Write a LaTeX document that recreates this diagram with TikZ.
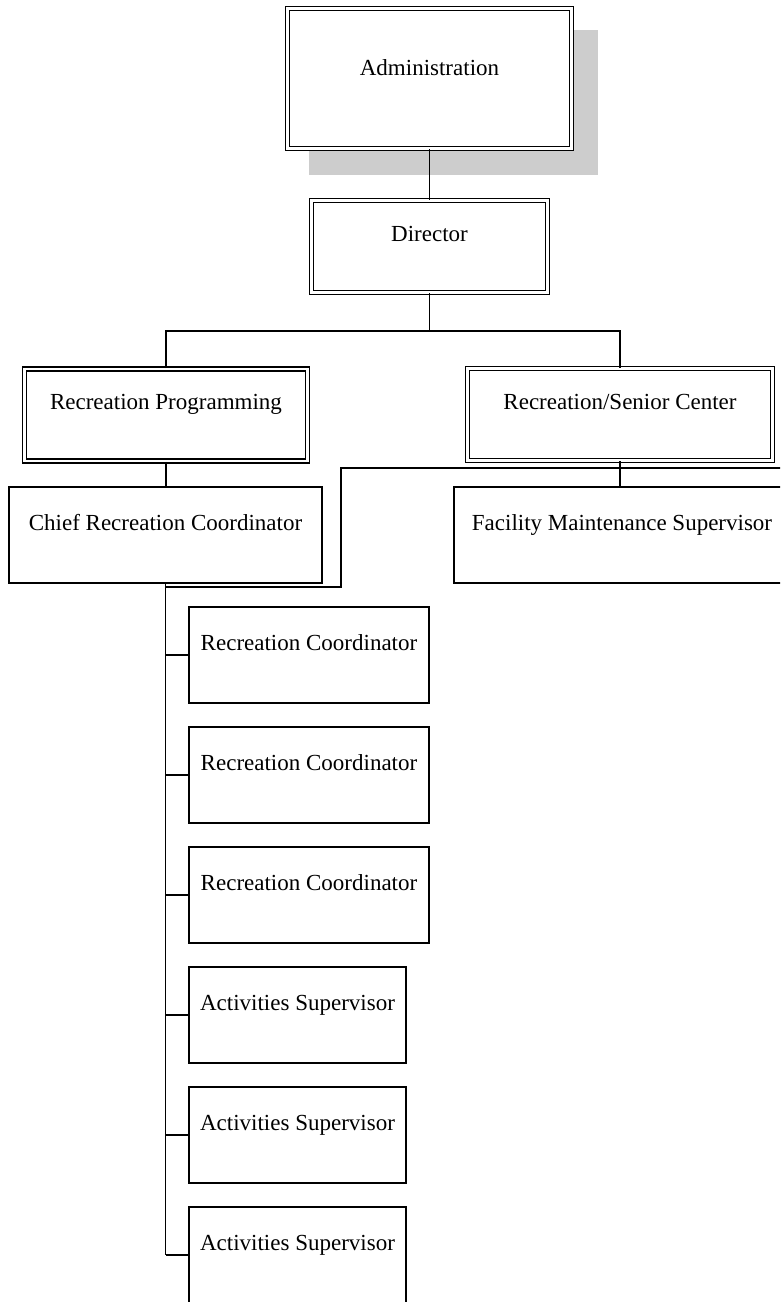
\documentclass[tikz,border=0pt]{standalone}
\usepackage{fontspec}
\setmainfont{Liberation Serif}
\usepackage{xcolor}
\usepackage{tikz}
\usetikzlibrary{positioning,calc}
\definecolor{shadowgray}{HTML}{CDCDCD}

\begin{document}
\begin{tikzpicture}[x=1pt,y=-1pt,
  post/.style={draw,fill=white,line width=1.6pt,inner sep=0pt,minimum height=96pt,
    text height=16pt,text depth=26pt,font=\fontsize{23}{27}\selectfont},
  headpost/.style={post,double,double distance=2.6pt,minimum height=92pt,text depth=27pt},
  link/.style={line width=1.6pt}]
  \useasboundingbox (0,0) rectangle (780,1302);
  \clip (0,0) rectangle (780,1302);
  \fill[shadowgray] (309,30) rectangle (598,175);
  \node[headpost,minimum width=284pt,minimum height=140pt,text depth=23pt] (admin) at (429.5,78.5) {Administration};
  \node[headpost,minimum width=236pt] (director) at (429.5,246.5) {Director};
  \node[headpost,minimum width=283pt] (recprog) at (166,415) {Recreation Programming};
  \node[headpost,minimum width=305pt] (senior) at (620,414.5) {Recreation/Senior Center};
  \node[post,minimum width=313pt] (chief) at (165.5,535) {Chief Recreation Coordinator};
  \node[post,minimum width=336pt] (facility) at (622,535) {Facility Maintenance Supervisor};
  \foreach \i in {0,1,2}{\node[post,minimum width=240pt] (coord\i) at (309,655+120*\i) {Recreation Coordinator};}
  \foreach \i in {0,1,2}{\node[post,minimum width=217pt] (activ\i) at (297.5,1015+120*\i) {Activities Supervisor};}
  \coordinate (fork) at (429.5,331);
  \coordinate (offpage) at (800,468);
  \coordinate (bend) at (341,587);
  \draw[link] (admin) -- (director);
  \draw[link] (director) -- (fork);
  \draw[link] (recprog.north) |- (fork) -| (senior.north);
  \draw[link] (recprog.south) -- (recprog.south |- chief.north);
  \draw[link] (senior.south) -- (senior.south |- facility.north);
  \draw[link] (offpage) -| (bend) -- (bend -| chief.south);
  \draw[link] (chief.south) -- (chief.south |- activ2.west);
  \foreach \n in {coord0,coord1,coord2,activ0,activ1,activ2}{\draw[link] (\n.west) -- (\n.west -| chief.south);}
\end{tikzpicture}
\end{document}
